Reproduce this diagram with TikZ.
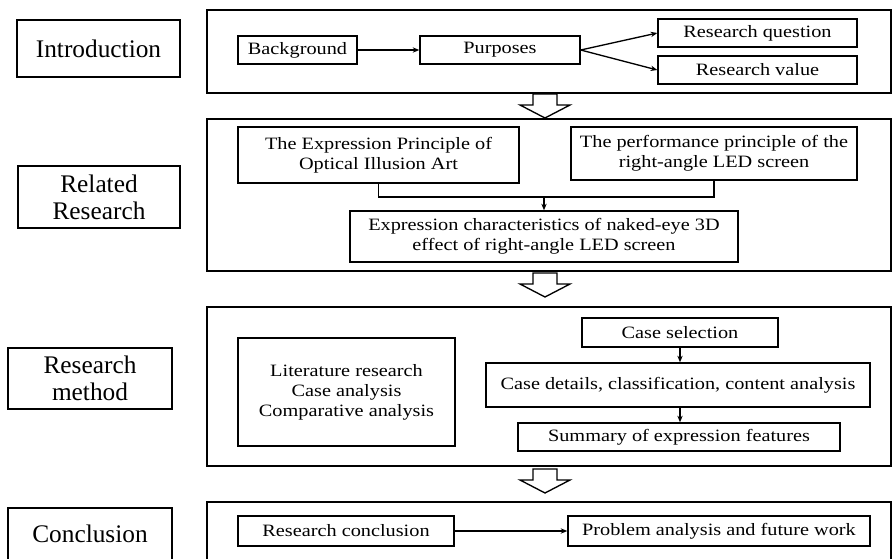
\documentclass[tikz,border=0pt]{standalone}
\usepackage{fontspec}
\setmainfont{Liberation Serif}
\newfontfamily\boxfont{Liberation Serif}[FakeStretch=1.17]
\usetikzlibrary{arrows.meta}

\begin{document}
\begin{tikzpicture}[x=0.75pt, y=-0.75pt, >={Stealth[length=5pt,width=4pt]},
        stage/.style = {draw, line width=1.8pt, inner sep=0pt, align=center, font=\fontsize{19}{20}\selectfont},
        frame/.style = {draw, line width=1.4pt},
        box/.style = {draw, line width=1pt, inner sep=0pt, align=center, font=\boxfont\fontsize{13}{15}\selectfont},
        hollow/.style = {draw, line width=1pt, fill=white}]
        \clip (0,0) rectangle (894,558);

        % stages on the left
        \node[stage, minimum width=163*0.75pt, minimum height=57*0.75pt] (intro) at (98.5,48.5) {Introduction};
        \node[stage, minimum width=162*0.75pt, minimum height=62*0.75pt] (related) at (99,197) {Related\\Research};
        \node[stage, minimum width=164*0.75pt, minimum height=61*0.75pt] (method) at (90,378.5) {Research\\method};
        \node[stage, minimum width=164*0.75pt, minimum height=52*0.75pt] (concl) at (90,534) {Conclusion};

        % frames on the right
        \draw[frame] (207,10) rectangle (891,93);
        \draw[frame] (207,119) rectangle (891,271);
        \draw[frame] (207,307) rectangle (891,466);
        \draw[frame] (207,502) rectangle (891,570);

        % hollow arrows between frames
        \foreach \t in {94, 273, 469} {
            \draw[hollow] (533,\t) -- (557,\t) -- (557,\t+11) -- (570,\t+11) -- (545,\t+24)
                -- (520,\t+11) -- (533,\t+11) -- cycle;
        }

        % introduction
        \node[box, minimum width=119*0.75pt, minimum height=28*0.75pt] (bg) at (297.5,50) {Background};
        \node[box, minimum width=160*0.75pt, minimum height=28*0.75pt] (purp) at (500,50) {Purposes};
        \node[box, minimum width=199*0.75pt, minimum height=28*0.75pt] (rq) at (757.5,33) {Research question};
        \node[box, minimum width=199*0.75pt, minimum height=28*0.75pt] (rv) at (757.5,70) {Research value};

        \draw[->, line width=1pt] (bg) -- (purp);
        \draw[->, line width=1pt] (purp.east) -- (rq.west);
        \draw[->, line width=1pt] (purp.east) -- (rv.west);

        % related research
        \node[box, minimum width=281*0.75pt, minimum height=56*0.75pt] (optic) at (378.5,155) {The Expression Principle of\\Optical Illusion Art};
        \node[box, minimum width=286*0.75pt, minimum height=53*0.75pt] (screen) at (714,153.5) {The performance principle of the\\right-angle LED screen};
        \node[box, minimum width=388*0.75pt, minimum height=51*0.75pt] (naked) at (544,236.5) {Expression characteristics of naked-eye 3D\\effect of right-angle LED screen};

        \coordinate (join) at (544,197);
        \draw[line width=1pt] (optic.south) |- (join) -| (screen.south);
        \draw[->, line width=1pt] (join) -- (naked.north);

        % research method
        \node[box, minimum width=217*0.75pt, minimum height=108*0.75pt] (lit) at (346.5,392) {Literature research\\Case analysis\\Comparative analysis};
        \node[box, minimum width=196*0.75pt, minimum height=29*0.75pt] (select) at (680,332.5) {Case selection};
        \node[box, minimum width=384*0.75pt, minimum height=44*0.75pt] (detail) at (678,385) {Case details, classification, content analysis};
        \node[box, minimum width=322*0.75pt, minimum height=28*0.75pt] (summary) at (679,437) {Summary of expression features};

        \draw[->, line width=1pt] (select) -- (select |- detail.north);
        \draw[->, line width=1pt] (select |- detail.south) -- (select |- summary.north);

        % conclusion
        \node[box, minimum width=216*0.75pt, minimum height=30*0.75pt] (result) at (346,531) {Research conclusion};
        \node[box, minimum width=302*0.75pt, minimum height=30*0.75pt] (future) at (719,531) {Problem analysis and future work};

        \draw[->, line width=1pt] (result) -- (future);

    \end{tikzpicture}
\end{document}
